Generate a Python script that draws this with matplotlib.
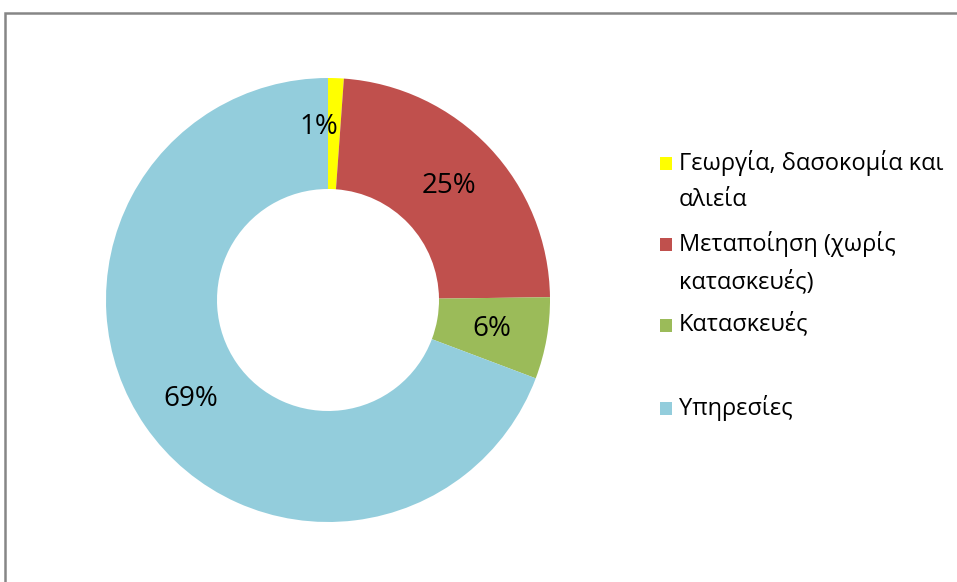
import matplotlib.pyplot as plt
from matplotlib.patches import Rectangle
import numpy as np

plt.rcParams['font.family'] = ['Open Sans', 'DejaVu Sans']

categories = ["Γεωργία, δασοκομία και\nαλιεία", "Μεταποίηση (χωρίς\nκατασκευές)",
              "Κατασκευές", "Υπηρεσίες"]
shares = [1.14, 23.66, 5.94, 69.26]
pct_labels = ["1%", "25%", "6%", "69%"]
colors = ["#FFFF00", "#C0504D", "#9BBB59", "#93CDDC"]

W, H = 957, 582
fig = plt.figure(figsize=(W / 100, H / 100), dpi=100)

# chart area border (cut off on right and bottom)
fig.patches.append(Rectangle((5 / W, -0.1), 1.2, 1.1 - 13 / H, transform=fig.transFigure,
                             fill=False, edgecolor="#868686", linewidth=1.8))

cx, cy, r = 328, 300, 222
ax = fig.add_axes([(cx - r) / W, (H - cy - r) / H, 2 * r / W, 2 * r / H])
wedges, _ = ax.pie(shares, colors=colors, startangle=90, counterclock=False,
                   wedgeprops=dict(width=0.5, linewidth=0))
ax.set_xlim(-1, 1)
ax.set_ylim(-1, 1)
ax.set_aspect("equal")
ax.axis("off")

# percentage labels in the middle of the ring band (small slice label nudged left like Excel)
nudge = [(-0.07, 0.03), (0, 0), (0, 0), (0, -0.02)]
for w, lab, (dx, dy) in zip(wedges, pct_labels, nudge):
    ang = np.deg2rad((w.theta1 + w.theta2) / 2)
    ax.text(0.75 * np.cos(ang) + dx, 0.75 * np.sin(ang) + dy, lab, ha="center", va="center",
            fontsize=20, color="black")

# legend drawn by hand: marker aligned with the first text line
ys = [163, 244, 325, 408]
for y, c, name in zip(ys, colors, categories):
    fig.patches.append(Rectangle((660 / W, 1 - (y + 7) / H), 12 / W, 13 / H,
                                 transform=fig.transFigure, facecolor=c, edgecolor="none"))
    fig.text(679 / W, 1 - (y - 13) / H, name, ha="left", va="top", fontsize=17,
             linespacing=1.68, color="black")

fig.savefig("out.png", dpi=100)
